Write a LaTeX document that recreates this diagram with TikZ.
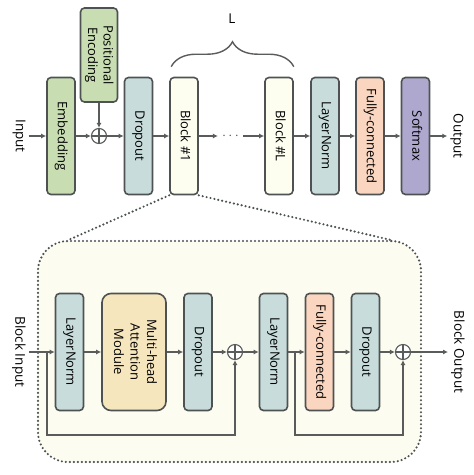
\documentclass[tikz,border=0pt]{standalone}
\usepackage{fontspec}
\setmainfont{Open Sans}
\usepackage{graphicx}
\usetikzlibrary{arrows.meta,decorations.pathreplacing}
\definecolor{cline}{RGB}{78,82,82}
\definecolor{aline}{RGB}{90,92,92}
\definecolor{cgreen}{RGB}{200,222,178}
\definecolor{cteal}{RGB}{200,220,220}
\definecolor{ccream}{RGB}{253,253,240}
\definecolor{csalmon}{RGB}{250,214,192}
\definecolor{cpurple}{RGB}{174,168,207}
\definecolor{cyellow}{RGB}{246,230,190}
\definecolor{cpanel}{RGB}{253,252,240}
\newcommand{\vlab}[1]{\rotatebox{-90}{\begin{tabular}{@{}c@{}}#1\end{tabular}}}
\begin{document}
\begin{tikzpicture}[x=1pt,y=-1pt,
  blk/.style={draw=cline,line width=1.6pt,rounded corners=4pt,minimum width=28pt,minimum height=117pt,inner sep=0pt,font=\fontsize{13}{15.5}\selectfont},
  lab/.style={font=\fontsize{13.5}{16}\selectfont,rotate=-90,inner sep=3pt},
  arr/.style={draw=aline,line width=1.2pt,-{Latex[length=5pt,width=5pt]}},
  plus/.style={circle,draw=aline,line width=1.1pt,fill=white,minimum size=15pt,inner sep=0pt,
    path picture={\draw[aline,line width=1.1pt] (path picture bounding box.north) -- (path picture bounding box.south)
      (path picture bounding box.west) -- (path picture bounding box.east);}},
  dots/.style={draw=cline,line width=2.4pt,line cap=round,dash pattern=on 0pt off 4pt},
  panel/.style={dots,fill=cpanel,rounded corners=30pt,minimum width=383pt,minimum height=221pt}]
  \useasboundingbox (0,0) rectangle (474,475);
  \node[blk,fill=cgreen] (emb) at (61,136) {\vlab{Embedding}};
  \node[blk,fill=cgreen,minimum width=37pt,minimum height=94pt] (pe) at (99,55) {\vlab{Positional\\Encoding}};
  \node[plus] (p0) at (99,136) {};
  \node[blk,fill=cteal] (drop) at (138.5,136) {\vlab{Dropout}};
  \node[blk,fill=ccream] (b1) at (184,136) {\vlab{Block \#1}};
  \node[text=aline,inner xsep=4pt,font=\fontsize{14}{14}\selectfont] (mid) at (230.5,136) {$\cdots$};
  \node[blk,fill=ccream] (bL) at (279,136) {\vlab{Block \#L}};
  \node[blk,fill=cteal] (lnf) at (325,136) {\vlab{LayerNorm}};
  \node[blk,fill=csalmon] (fc) at (370,136) {\vlab{Fully-connected}};
  \node[blk,fill=cpurple] (soft) at (415.5,136) {\vlab{Softmax}};
  \node[lab] (in) at (19,136) {Input};
  \node[lab] (out) at (457,136) {Output};
  \foreach \a/\b in {in/emb,emb/p0,pe/p0,p0/drop,drop/b1,b1/mid,mid/bL,bL/lnf,lnf/fc,fc/soft,soft/out}
    \draw[arr] (\a) -- (\b);
  \draw[aline,line width=1.4pt,decorate,decoration={brace,amplitude=25pt}]
    ([xshift=2pt,yshift=10pt]b1.north west) -- ([yshift=10pt]bL.north east);
  \node[font=\fontsize{13.5}{16}\selectfont] (L) at (232,19) {L};
  \node[panel] (bp) at (229.5,351.5) {};
  \draw[dots] (b1.south west) -- ([xshift=32pt]bp.north west)
    (b1.south east) -- ([xshift=-32pt]bp.north east);
  \node[lab] (bin) at (19,352) {Block Input};
  \node[blk,fill=cteal] (ln1) at (69.5,352) {\vlab{LayerNorm}};
  \node[blk,fill=cyellow,minimum width=64pt,rounded corners=9pt,font=\fontsize{13}{16.5}\selectfont] (mha) at (134,352) {\vlab{Multi-head\\Attention\\Module}};
  \node[blk,fill=cteal] (drop1) at (198,352) {\vlab{Dropout}};
  \node[plus] (p1) at (235,352) {};
  \node[blk,fill=cteal] (ln2) at (273.5,352) {\vlab{LayerNorm}};
  \node[blk,fill=csalmon] (fc2) at (319.5,352) {\vlab{Fully-connected}};
  \node[blk,fill=cteal] (drop2) at (365.5,352) {\vlab{Dropout}};
  \node[plus] (p2) at (403,352) {};
  \node[lab] (bout) at (458,352) {Block Output};
  \coordinate (r1) at (47,352);
  \coordinate (r2) at (295,352);
  \foreach \a/\b in {bin/ln1,ln1/mha,mha/drop1,drop1/p1,p1/ln2,ln2/fc2,fc2/drop2,drop2/p2,p2/bout}
    \draw[arr] (\a) -- (\b);
  \draw[arr] (r1) -- ++(0,83) -| (p1.south);
  \draw[arr] (r2) -- ++(0,83) -| (p2.south);
\end{tikzpicture}
\end{document}
